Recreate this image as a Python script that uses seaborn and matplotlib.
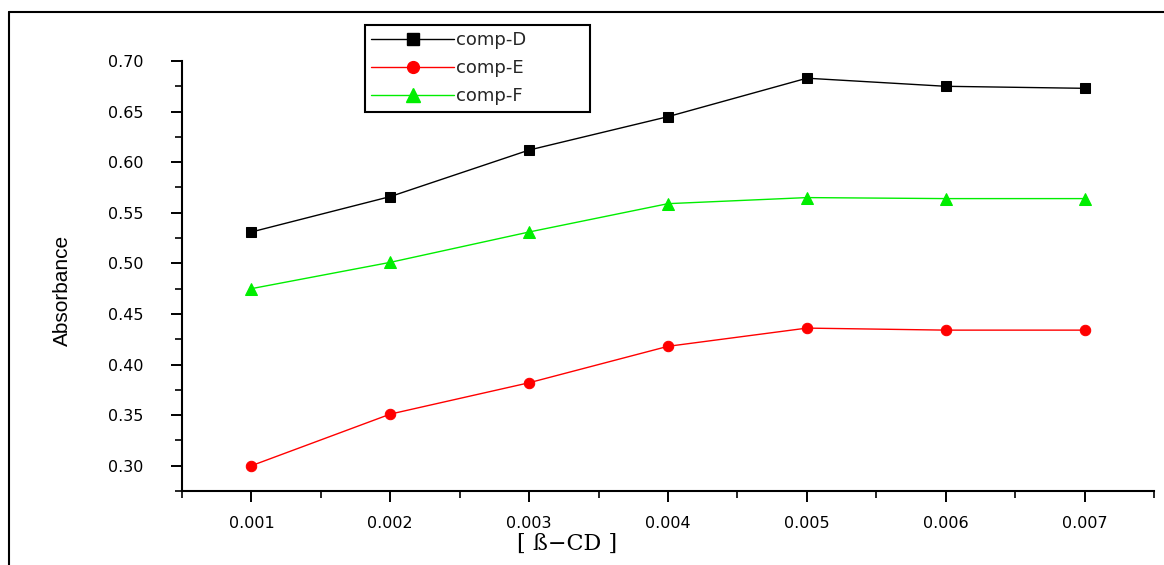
import matplotlib
matplotlib.use("Agg")
import matplotlib.pyplot as plt
import seaborn as sns
import pandas as pd
from matplotlib.ticker import MultipleLocator, FormatStrFormatter
from matplotlib.lines import Line2D

# ---- data ----
conc = [0.001, 0.002, 0.003, 0.004, 0.005, 0.006, 0.007]
comp_D = [0.531, 0.566, 0.612, 0.645, 0.683, 0.675, 0.673]
comp_E = [0.300, 0.351, 0.382, 0.418, 0.436, 0.434, 0.434]
comp_F = [0.475, 0.501, 0.531, 0.559, 0.565, 0.564, 0.564]
series_names = ["comp-D", "comp-E", "comp-F"]
x_label = "[ ß\u2212CD ]"
y_label = "Absorbance"

df = pd.DataFrame({
    "conc": conc * 3,
    "abs": comp_D + comp_E + comp_F,
    "series": [s for s in series_names for _ in conc],
})

sns.set_theme(style="white")
plt.rcParams["font.family"] = ["DejaVu Sans"]

fig = plt.figure(figsize=(11.64, 5.65), dpi=100)
ax = fig.add_axes([182/1164, (565-491)/565, (1154-182)/1164, (491-61)/565])

colors = {"comp-D": "#000000", "comp-E": "#ff0000", "comp-F": "#00ee00"}
markers = {"comp-D": "s", "comp-E": "o", "comp-F": "^"}
msizes = {"comp-D": 7, "comp-E": 7.5, "comp-F": 8.5}

for name in series_names:
    sub = df[df["series"] == name]
    sns.lineplot(data=sub, x="conc", y="abs", ax=ax, color=colors[name],
                 marker=markers[name], markersize=msizes[name],
                 markeredgecolor=colors[name], linewidth=1.0, label=name,
                 legend=False)

ax.set_xlim(0.0005, 0.0075)
ax.set_ylim(0.275, 0.70)
ax.xaxis.set_major_locator(MultipleLocator(0.001))
ax.xaxis.set_minor_locator(MultipleLocator(0.0005))
ax.yaxis.set_major_locator(MultipleLocator(0.05))
ax.yaxis.set_minor_locator(MultipleLocator(0.025))
ax.xaxis.set_major_formatter(FormatStrFormatter("%.3f"))
ax.yaxis.set_major_formatter(FormatStrFormatter("%.2f"))
ax.set_xticks([0.001, 0.002, 0.003, 0.004, 0.005, 0.006, 0.007])
ax.set_yticks([0.30, 0.35, 0.40, 0.45, 0.50, 0.55, 0.60, 0.65, 0.70])

for s in ["top", "right"]:
    ax.spines[s].set_visible(False)
for s in ["left", "bottom"]:
    ax.spines[s].set_color("black")
    ax.spines[s].set_linewidth(1.5)

ax.tick_params(axis="y", which="major", direction="out", length=8, width=1.4,
               pad=20, labelsize=11.5, colors="black", left=True)
ax.tick_params(axis="y", which="minor", direction="out", length=5, width=1.4, left=True)
ax.tick_params(axis="x", which="major", direction="out", length=8, width=1.4,
               pad=10, labelsize=11.5, colors="black", bottom=True)
ax.tick_params(axis="x", which="minor", direction="out", length=5, width=1.4, bottom=True)

ax.set_xlabel(x_label, fontsize=16, family=["DejaVu Serif"], color="black")
ax.xaxis.set_label_coords((567-182)/972, -(544-491)/430, transform=ax.transAxes)
ax.xaxis.label.set_verticalalignment("center")
ax.set_ylabel(y_label, fontsize=15, family=["Liberation Sans Narrow", "Liberation Sans"],
              color="black")
ax.yaxis.set_label_coords(-(182-62)/972, (491-290)/430, transform=ax.transAxes)
ax.yaxis.label.set_verticalalignment("center")

handles = [Line2D([0], [0], color=colors[n], marker=markers[n], markersize=msizes[n] + 1,
                  markeredgecolor=colors[n], linewidth=1.0) for n in series_names]
x0 = (365-182)/972
w = (590-365)/972
ytop = (491-25)/430
h = (108-25)/430
leg = ax.legend(handles, series_names, loc="upper left",
                bbox_to_anchor=(x0, ytop - h, w, h), mode="expand",
                borderaxespad=0, frameon=True, fancybox=False, fontsize=13,
                handlelength=4.6, handletextpad=0.1, labelspacing=0.55,
                borderpad=0.35, framealpha=1)
leg.get_frame().set_edgecolor("black")
leg.get_frame().set_linewidth(1.5)

# outer frame lines (top and left)
fig.add_artist(Line2D([9/1164, 1.0], [1-12/565, 1-12/565], transform=fig.transFigure,
                      color="black", linewidth=1.5))
fig.add_artist(Line2D([9/1164, 9/1164], [0, 1-12/565], transform=fig.transFigure,
                      color="black", linewidth=1.5))

fig.savefig("out.png", dpi=100, facecolor="white")
